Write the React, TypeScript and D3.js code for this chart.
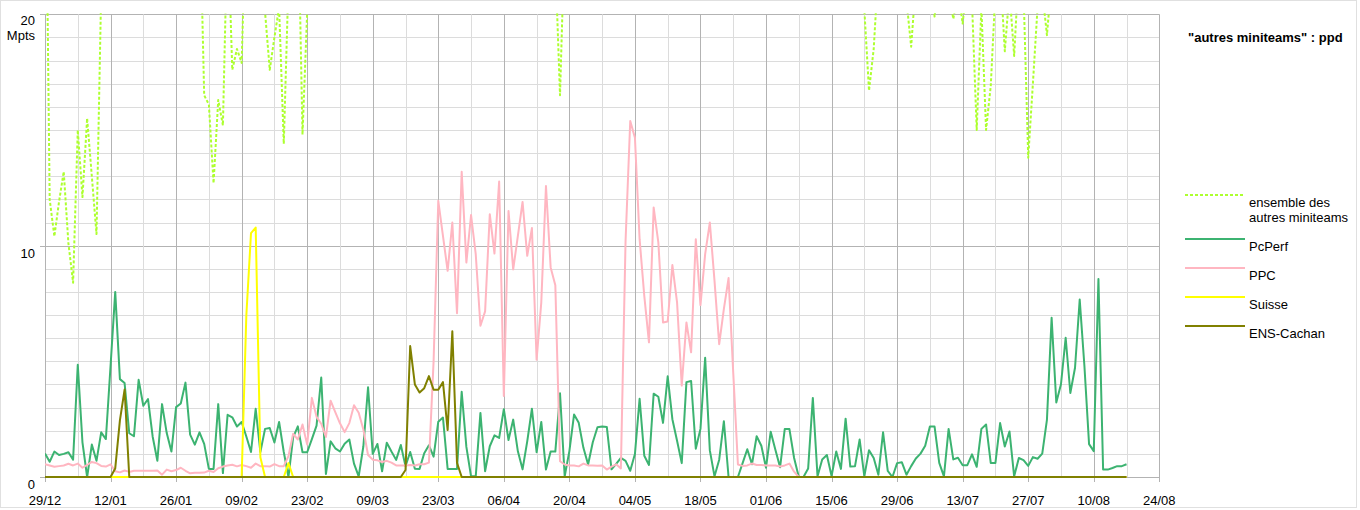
import * as d3 from "d3";
import { useEffect, useRef } from "react";

// one value per day, starting 29/12 (rows of 14 days = one x-axis interval)
const START = Date.UTC(2006, 11, 29);
const END = Date.UTC(2007, 7, 24);

const xTickLabels = [
  "29/12", "12/01", "26/01", "09/02", "23/02", "09/03", "23/03", "06/04", "20/04",
  "04/05", "18/05", "01/06", "15/06", "29/06", "13/07", "27/07", "10/08", "24/08",
];
const yTickLabels = ["0", "10", "20"];

const autres = [
  30, 12.0, 10.4, 11.9, 13.2, 10.1, 8.4, 15.0, 12.1, 15.5, 13.0, 10.5, 21.0, 26,
  28, 25, 30, 27, 24, 26, 29, 27, 25, 28, 30, 26, 27, 25,
  29, 26, 28, 27, 24, 25.2, 16.5, 16.1, 12.7, 16.3, 15.2, 24, 17.6, 18.5,
  17.9, 25, 27, 26, 24, 20.1, 17.6, 19.0, 20.3, 14.4, 21.4, 26, 25.2, 14.8,
  20.1, 27, 29, 26, 28, 31, 27, 25, 28, 30, 26, 29, 27, 25,
  28, 26, 30, 27, 25, 29, 26, 28, 31, 27, 25, 28, 26, 29,
  27, 30, 26, 28, 25, 29, 27, 26, 28, 30, 27, 25, 29, 26,
  28, 27, 30, 26, 25, 28, 29, 27, 26, 28, 25, 22.3, 16.5, 23.5,
  27, 29, 26, 28, 30, 27, 25, 28, 26, 29, 27, 30, 26, 28,
  25, 29, 27, 26, 28, 30, 27, 25, 29, 26, 28, 27, 30, 26,
  25, 28, 29, 27, 26, 28, 25, 27, 29, 26, 28, 30, 27, 25,
  28, 26, 29, 27, 25, 28, 30, 26, 27, 29, 25, 28, 26, 27,
  29, 26, 28, 25, 27, 24, 22, 20.2, 16.7, 18.5, 22, 25, 27, 24,
  26, 23, 20.6, 18.6, 21.4, 24, 23, 22, 19.9, 21.5, 23, 21, 19.8, 21,
  19.6, 21.5, 20.5, 15.0, 20.3, 15.0, 16.9, 21, 22, 18.4, 21, 18.2, 22, 21,
  13.8, 17.0, 20.3, 21, 19.1, 21.5, 24, 26, 23, 25, 27, 24, 26, 25,
  23, 26, 24, 27, 25, 23, 26, 24,
];

const pcPerf = [
  1.02, 0.66, 1.1, 0.95, 1.0, 1.07, 0.75, 4.85, 1.5, 0, 1.4, 0.7, 1.93, 1.64,
  4.8, 8.0, 4.23, 4.06, 1.89, 1.76, 4.2, 3.08, 3.37, 1.74, 0.7, 3.15, 1.9, 1.1,
  3.02, 3.18, 4.08, 1.83, 1.4, 1.93, 1.43, 0.35, 0.35, 3.15, 0.17, 2.69, 2.58, 2.18,
  2.38, 1.75, 1.08, 2.95, 1.08, 2.08, 2.12, 1.49, 2.38, 1.08, 0, 1.71, 2.19, 1.07,
  1.07, 1.64, 2.22, 4.3, 0.13, 1.54, 1.24, 1.1, 1.44, 1.62, 0.58, 0.03, 1.33, 3.88,
  1.0, 1.43, 0.25, 1.48, 1.1, 0.74, 1.38, 0.47, 1.08, 0.36, 0.35, 1.03, 1.37, 0.88,
  2.39, 2.57, 0.35, 0.35, 0.35, 3.68, 1.3, 0.03, 0.03, 2.77, 0.25, 1.33, 1.8, 1.69,
  2.93, 1.6, 2.48, 1.11, 0.33, 1.54, 2.95, 1.07, 2.38, 0.32, 1.1, 1.1, 3.62, 0.03,
  1.12, 2.7, 2.34, 1.26, 0.54, 1.5, 2.15, 2.18, 2.16, 0.33, 0.57, 0.83, 0.7, 0.27,
  0.99, 3.38, 0.92, 0.52, 3.6, 3.47, 2.34, 4.35, 2.5, 1.57, 0.6, 4.1, 4.15, 1.22,
  2.08, 5.15, 1.15, 0.03, 0.75, 2.41, 0, 0, 0, 0.6, 1.2, 0.55, 1.76, 1.35,
  0.4, 1.96, 1.18, 0.42, 2.07, 2.07, 0.82, 0, 0, 0.37, 3.42, 0.03, 0.76, 0.95,
  0.04, 1.1, 0.35, 2.52, 0.45, 0.46, 1.62, 0.03, 1.16, 0.82, 0.1, 1.93, 0.26, 0,
  0.6, 0.64, 0.1, 0.47, 0.8, 1.01, 1.35, 2.18, 2.18, 0.61, 0.03, 2.08, 0.76, 0.83,
  0.51, 0.51, 0.98, 0.44, 2.08, 2.27, 0.61, 0.61, 2.33, 1.32, 1.97, 0.03, 0.82, 0.73,
  0.48, 0.86, 0.79, 1.01, 2.47, 6.88, 3.22, 4.01, 6.02, 3.63, 4.72, 7.67, 4.82, 1.42,
  1.12, 8.56, 0.32, 0.32, 0.39, 0.47, 0.47, 0.55,
];

const ppc = [
  0.55, 0.5, 0.44, 0.47, 0.5, 0.57, 0.5, 0.58, 0.4, 0.52, 0.65, 0.6, 0.48, 0.45,
  0.55, 0.25, 0.2, 0.28, 0.22, 0.27, 0.27, 0.27, 0.27, 0.27, 0.28, 0.1, 0.32, 0.25,
  0.3, 0.4, 0.27, 0.16, 0.18, 0.18, 0.19, 0.27, 0.22, 0.38, 0.45, 0.5, 0.53, 0.46,
  0.52, 0.47, 0.4, 0.58, 0.47, 0.47, 0.45, 0.56, 0.47, 0.47, 0.9, 1.87, 1.62, 2.27,
  1.4, 3.42, 2.6, 2.3, 1.73, 3.3, 2.8, 2.32, 1.94, 2.33, 3.1, 2.78, 2.05, 0.95,
  0.75, 0.72, 0.65, 0.7, 0.62, 0.5, 0.5, 0.5, 0.52, 0.5, 0.55, 0.55, 0.62, 5.0,
  11.94, 10.42, 8.91, 11.0, 7.08, 13.19, 9.27, 11.32, 9.63, 6.54, 7.16, 11.36, 9.66, 12.77,
  3.5, 11.5, 8.97, 10.42, 11.89, 9.56, 10.76, 5.07, 7.55, 12.58, 9.06, 8.29, 0.68, 0.54,
  0.5, 0.5, 0.46, 0.58, 0.5, 0.5, 0.49, 0.5, 0.32, 0.45, 0.55, 0.37, 10.2, 15.39,
  14.67, 10.28, 7.83, 5.82, 11.65, 10.14, 6.68, 6.72, 9.16, 7.55, 3.95, 6.68, 5.39, 10.28,
  7.43, 9.63, 11.0, 8.48, 5.74, 7.27, 8.6, 4.5, 0.54, 0.48, 0.5, 0.58, 0.52, 0.52,
  0.5, 0.5, 0.5, 0.45, 0.5, 0.58, 0.23, 0, 0, 0, 0, 0, 0, 0,
  0, 0, 0, 0, 0, 0, 0, 0, 0, 0, 0, 0, 0, 0,
  0, 0, 0, 0, 0, 0, 0, 0, 0, 0, 0, 0, 0, 0,
  0, 0, 0, 0, 0, 0, 0, 0, 0, 0, 0, 0, 0, 0,
  0, 0, 0, 0, 0, 0, 0, 0, 0, 0, 0, 0, 0, 0,
  0, 0, 0, 0, 0, 0, 0, 0,
];

const suisse = [
  0, 0, 0, 0, 0, 0, 0, 0, 0, 0, 0, 0, 0, 0,
  0, 0, 0, 0, 0, 0, 0, 0, 0, 0, 0, 0, 0, 0,
  0, 0, 0, 0, 0, 0, 0, 0, 0, 0, 0, 0, 0, 0,
  0, 6.97, 10.54, 10.78, 0.85, 0, 0, 0, 0, 0, 0.6, 0, 0, 0,
  0, 0, 0, 0, 0, 0, 0, 0, 0, 0, 0, 0, 0, 0,
  0, 0, 0, 0, 0, 0, 0, 0, 0, 0, 0, 0, 0, 0,
  0, 0, 0, 0, 0, 0, 0, 0, 0, 0, 0, 0, 0, 0,
  0, 0, 0, 0, 0, 0, 0, 0, 0, 0, 0, 0, 0, 0,
  0, 0, 0, 0, 0, 0, 0, 0, 0, 0, 0, 0, 0, 0,
  0, 0, 0, 0, 0, 0, 0, 0, 0, 0, 0, 0, 0, 0,
  0, 0, 0, 0, 0, 0, 0, 0, 0, 0, 0, 0, 0, 0,
  0, 0, 0, 0, 0, 0, 0, 0, 0, 0, 0, 0, 0, 0,
  0, 0, 0, 0, 0, 0, 0, 0, 0, 0, 0, 0, 0, 0,
  0, 0, 0, 0, 0, 0, 0, 0, 0, 0, 0, 0, 0, 0,
  0, 0, 0, 0, 0, 0, 0, 0, 0, 0, 0, 0, 0, 0,
  0, 0, 0, 0, 0, 0, 0, 0, 0, 0, 0, 0, 0, 0,
  0, 0, 0, 0, 0, 0, 0, 0,
];

const ensCachan = [
  0, 0, 0, 0, 0, 0, 0, 0, 0, 0, 0, 0, 0, 0,
  0, 0.37, 2.45, 3.78, 0, 0, 0, 0, 0, 0, 0, 0, 0, 0,
  0, 0, 0, 0, 0, 0, 0, 0, 0, 0, 0, 0, 0, 0,
  0, 0, 0, 0, 0, 0, 0, 0, 0, 0, 0, 0, 0, 0,
  0, 0, 0, 0, 0, 0, 0, 0, 0, 0, 0, 0, 0, 0,
  0, 0, 0, 0, 0, 0, 0, 0.3, 5.66, 4.0, 3.65, 3.84, 4.36, 3.77,
  3.77, 4.1, 2.03, 6.3, 0.61, 0, 0, 0, 0, 0, 0, 0, 0, 0,
  0, 0, 0, 0, 0, 0, 0, 0, 0, 0, 0, 0, 0, 0,
  0, 0, 0, 0, 0, 0, 0, 0, 0, 0, 0, 0, 0, 0,
  0, 0, 0, 0, 0, 0, 0, 0, 0, 0, 0, 0, 0, 0,
  0, 0, 0, 0, 0, 0, 0, 0, 0, 0, 0, 0, 0, 0,
  0, 0, 0, 0, 0, 0, 0, 0, 0, 0, 0, 0, 0, 0,
  0, 0, 0, 0, 0, 0, 0, 0, 0, 0, 0, 0, 0, 0,
  0, 0, 0, 0, 0, 0, 0, 0, 0, 0, 0, 0, 0, 0,
  0, 0, 0, 0, 0, 0, 0, 0, 0, 0, 0, 0, 0, 0,
  0, 0, 0, 0, 0, 0, 0, 0, 0, 0, 0, 0, 0, 0,
  0, 0, 0, 0, 0, 0, 0, 0,
];

interface SeriesConfig {
  label: string[];
  color: string;
  values: number[];
  dash?: string;
}

const SERIES: SeriesConfig[] = [
  { label: ["ensemble des", "autres miniteams"], color: "#adff2f", values: autres, dash: "3,2" },
  { label: ["PcPerf"], color: "#3cb371", values: pcPerf },
  { label: ["PPC"], color: "#ffb6c1", values: ppc },
  { label: ["Suisse"], color: "#ffff00", values: suisse },
  { label: ["ENS-Cachan"], color: "#808000", values: ensCachan },
];

const WIDTH = 1360;
const HEIGHT = 510;
const FONT = "'Liberation Sans', Arial, sans-serif";

export default function App() {
  const svgRef = useRef<SVGSVGElement>(null);

  useEffect(() => {
    if (!svgRef.current) return;
    const svg = d3.select(svgRef.current);
    svg.selectAll("*").remove();

    const start = new Date(START);
    const x = d3.scaleUtc().domain([start, new Date(END)]).range([45, 1159.3]);
    const y = d3.scaleLinear().domain([0, 20]).range([477, 14.3]);
    const day = (i: number) => d3.utcDay.offset(start, i);

    // outer dotted frame
    svg
      .append("rect")
      .attr("x", 0.5)
      .attr("y", 0.5)
      .attr("width", 1356)
      .attr("height", 507)
      .style("fill", "none")
      .style("stroke", "#c0c0c0")
      .style("stroke-dasharray", "1,1");

    const grid = svg.append("g");

    // horizontal grid: every unit, darker every 10
    d3.range(0, 21).forEach((v) => {
      const major = v % 10 === 0;
      grid
        .append("line")
        .attr("x1", major ? 40 : x.range()[0])
        .attr("x2", x.range()[1])
        .attr("y1", Math.round(y(v)) + 0.5)
        .attr("y2", Math.round(y(v)) + 0.5)
        .style("stroke", major ? "#b3b3b3" : "#dcdcdc")
        .style("stroke-width", 1);
    });

    // vertical grid: weekly, darker on the labelled fortnight ticks
    d3.range(0, 35).forEach((k) => {
      const major = k % 2 === 0;
      const px = Math.round(x(day(k * 7))) + 0.5;
      grid
        .append("line")
        .attr("x1", px)
        .attr("x2", px)
        .attr("y1", y(20))
        .attr("y2", major ? y(0) + 5 : y(0))
        .style("stroke", major ? "#b3b3b3" : "#dcdcdc")
        .style("stroke-width", 1);
    });

    // x labels
    svg
      .append("g")
      .selectAll("text")
      .data(xTickLabels)
      .join("text")
      .attr("x", (_, i) => x(day(i * 14)))
      .attr("y", 505)
      .attr("text-anchor", "middle")
      .style("font-family", FONT)
      .style("font-size", "13px")
      .style("fill", "#000")
      .text((d) => d);

    // y labels (the top one sits a little higher, with the unit under it)
    svg
      .append("g")
      .selectAll("text")
      .data(yTickLabels)
      .join("text")
      .attr("x", 35)
      .attr("y", (d) => (+d === 20 ? y(+d) + 10.5 : y(+d) + 12))
      .attr("text-anchor", "end")
      .style("font-family", FONT)
      .style("font-size", "13px")
      .style("fill", "#000")
      .text((d) => d);

    svg
      .append("text")
      .attr("x", 35)
      .attr("y", 40)
      .attr("text-anchor", "end")
      .style("font-family", FONT)
      .style("font-size", "13px")
      .style("fill", "#000")
      .text("Mpts");

    // clip to the plot area (values above 20 run off the top)
    svg
      .append("defs")
      .append("clipPath")
      .attr("id", "plot-clip")
      .append("rect")
      .attr("x", x.range()[0])
      .attr("y", y(20) - 1)
      .attr("width", x.range()[1] - x.range()[0])
      .attr("height", y(0) - y(20) + 3);

    const plot = svg.append("g").attr("clip-path", "url(#plot-clip)");

    for (const s of SERIES) {
      const line = d3
        .line<number>()
        .x((_, i) => x(day(i)))
        .y((d) => y(d));

      plot
        .append("path")
        .datum(s.values)
        .attr("d", line)
        .style("fill", "none")
        .style("stroke", s.color)
        .style("stroke-width", 2)
        .style("stroke-linejoin", "round")
        .style("stroke-dasharray", s.dash ?? null);
    }

    // legend
    svg
      .append("text")
      .attr("x", 1188)
      .attr("y", 42)
      .style("font-family", FONT)
      .style("font-size", "13px")
      .style("font-weight", "bold")
      .style("fill", "#000")
      .text('"autres miniteams" : ppd');

    let ly = 195;
    SERIES.forEach((s) => {
      const item = svg.append("g").attr("transform", `translate(1185, ${ly})`);
      item
        .append("line")
        .attr("x1", 0)
        .attr("x2", 60)
        .attr("y1", 0)
        .attr("y2", 0)
        .style("stroke", s.color)
        .style("stroke-width", 2)
        .style("stroke-dasharray", s.dash ?? null);
      s.label.forEach((t, j) => {
        item
          .append("text")
          .attr("x", 64)
          .attr("y", 12.3 + j * 15)
          .style("font-family", FONT)
          .style("font-size", "13px")
          .style("fill", "#000")
          .text(t);
      });
      ly += s.label.length > 1 ? 44 : 29;
    });
  }, []);

  return (
    <svg
      ref={svgRef}
      width={WIDTH}
      height={HEIGHT}
      style={{ position: "absolute", left: 0, top: 0, background: "#fff" }}
    />
  );
}
